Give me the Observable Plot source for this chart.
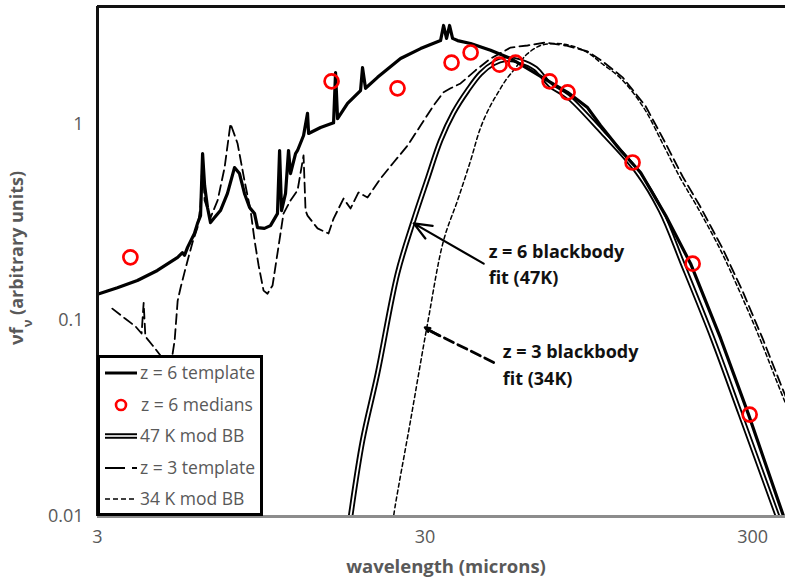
<!DOCTYPE html>
<html><head><meta charset="utf-8">
<script src="https://cdn.jsdelivr.net/npm/d3@7"></script>
<script src="https://cdn.jsdelivr.net/npm/@observablehq/plot@0.6"></script>
<style>
body{margin:0;background:#fff;}
#chart{width:785px;height:582px;}
</style></head><body><div id="chart"></div>
<script>
// ---- data (wavelength in microns, nu f_nu in arbitrary units) ----
const xTicks = [3, 30, 300];
const yTicks = [0.01, 0.1, 1];

const z6TemplateWl = [3.00,3.45,3.97,4.57,5.27,5.45,5.53,5.65,5.93,6.06,6.19,6.28,6.37,6.50,6.64,6.83,7.12,7.48,7.86,8.14,8.43,8.74,9.05,9.24,9.70,10.12,10.63,10.79,10.94,11.25,11.49,11.65,12.07,12.24,12.77,13.13,13.23,14.39,15.77,15.99,16.22,17.40,19.06,19.33,19.74,21.48,25.25,29.07,33.45,34.17,34.89,35.64,36.40,37.70,41.32,47.54,54.73,57.48,63.0,72.5,81.7,94.0,103.0,118.6,136.5,162.8,194.0,239.6,291.6,373.1,391.8];
const z6TemplateFlux = [0.136,0.147,0.160,0.180,0.210,0.222,0.215,0.236,0.278,0.313,0.343,0.711,0.488,0.377,0.316,0.335,0.364,0.445,0.603,0.562,0.445,0.377,0.351,0.298,0.295,0.305,0.351,0.737,0.364,0.445,0.737,0.562,0.711,0.737,0.879,1.14,0.900,0.965,1.02,1.84,1.07,1.28,1.49,1.95,1.53,1.74,2.17,2.44,2.68,3.20,2.75,3.20,2.75,2.68,2.59,2.39,2.17,2.07,1.89,1.64,1.46,1.22,0.988,0.737,0.569,0.343,0.195,0.081,0.0331,0.010,0.008];

const medianWl = [3.78,15.55,24.72,36.14,41.32,50.65,56.68,72.0,81.7,129.0,196.8,293.8];
const medianFlux = [0.210,1.66,1.53,2.07,2.33,2.02,2.07,1.66,1.46,0.640,0.195,0.0331];

const bb47Wl = [17.45,17.77,19.33,21.48,24.72,27.67,30.53,33.45,36.66,40.45,44.33,48.56,52.84,58.71,65.25,72.5,81.7,103.0,133.7,157.1,183.4,226.5,275.7,357.6,376];
const bb47Flux = [0.008,0.010,0.0244,0.0537,0.174,0.324,0.530,0.829,1.15,1.49,1.82,2.05,2.15,2.10,1.93,1.58,1.39,0.932,0.569,0.364,0.195,0.081,0.0331,0.010,0.008];

const z3TemplateWl = [3.33,3.65,3.92,4.09,4.15,4.20,4.42,4.67,4.87,5.05,5.16,5.27,5.38,5.53,5.65,5.85,6.06,6.19,6.28,6.37,6.64,6.98,7.33,7.64,8.03,8.43,8.80,9.05,9.31,9.64,9.91,10.27,10.63,11.09,11.65,12.24,12.77,12.95,13.13,14.09,15.22,15.77,16.91,17.77,18.79,20.02,21.94,24.04,26.53,29.07,31.85,34.17,35.89,38.50,42.79,47.54,54.73,61.67,69.98,80.55,94.0,104.5,120.3,141.4,162.8,183.4,206.7,242.9,279.6,321.8,362.6,411.7];
const z3TemplateFlux = [0.115,0.102,0.0932,0.0858,0.123,0.0829,0.0746,0.0663,0.0543,0.0625,0.0791,0.126,0.147,0.176,0.202,0.250,0.298,0.386,0.679,0.410,0.335,0.410,0.603,1.01,0.800,0.518,0.364,0.256,0.191,0.142,0.137,0.151,0.220,0.351,0.410,0.461,0.695,0.364,0.343,0.295,0.278,0.331,0.419,0.373,0.450,0.424,0.530,0.640,0.781,0.988,1.25,1.46,1.53,1.62,1.89,2.17,2.47,2.53,2.62,2.53,2.36,2.10,1.74,1.24,0.800,0.543,0.386,0.233,0.141,0.081,0.0489,0.0288];

const bb34Wl = [23.70,24.04,27.09,30.53,34.17,37.70,41.32,44.33,47.54,49.94,52.84,55.89,58.71,61.67,67.59,75.1,83.4,94.0,103.0,118.6,139.4,160.5,180.8,203.8,239.6,275.7,317.3,357.6,405.9];
const bb34Flux = [0.008,0.010,0.0309,0.0965,0.256,0.410,0.655,0.965,1.25,1.44,1.68,1.89,2.10,2.30,2.53,2.59,2.53,2.33,2.07,1.72,1.22,0.781,0.530,0.377,0.228,0.137,0.0791,0.0477,0.0281];

const legendLabels = ["z = 6 template","z = 6 medians","47 K mod BB","z = 3 template","34 K mod BB"];

// ---- build tables ----
const toRows = (w, f) => w.map((x, i) => ({x, y: f[i]}));
const z6 = toRows(z6TemplateWl, z6TemplateFlux);
const med = toRows(medianWl, medianFlux);
const bb47 = toRows(bb47Wl, bb47Flux);
const z3 = toRows(z3TemplateWl, z3TemplateFlux);
const bb34 = toRows(bb34Wl, bb34Flux);

const arrow6 = [{x1: 45.3, y1: 0.195, x2: 27.7, y2: 0.313}];
const arrow3Shaft = [{x1: 48.6, y1: 0.0611, x2: 31.3, y2: 0.0880}];
const arrow3Head = [{x1: 33.0, y1: 0.0840, x2: 30.0, y2: 0.0921}];

const plot = Plot.plot({
  width: 785, height: 582,
  marginLeft: 97, marginRight: 0, marginTop: 6, marginBottom: 66,
  style: {fontFamily: "'Open Sans', sans-serif", background: "#fff", color: "#595959", overflow: "visible"},
  x: {type: "log", domain: [3, 378]},
  y: {type: "log", domain: [0.01, 4]},
  marks: [
    Plot.axisX({ticks: xTicks, tickFormat: d => String(d), tickSize: 0, tickPadding: 14, fontSize: 18, label: null}),
    Plot.axisY({ticks: yTicks, tickFormat: d => String(d), tickSize: 0, tickPadding: 14, fontSize: 18, label: null}),
    Plot.line(bb34, {x: "x", y: "y", stroke: "black", strokeWidth: 1.5, strokeDasharray: "4,3", curve: "catmull-rom", clip: true}),
    Plot.line(z3, {x: "x", y: "y", stroke: "black", strokeWidth: 1.8, strokeDasharray: "10,5", clip: true}),
    Plot.line(bb47, {x: "x", y: "y", stroke: "black", strokeWidth: 5.5, curve: "catmull-rom", clip: true}),
    Plot.line(bb47, {x: "x", y: "y", stroke: "white", strokeWidth: 1.8, curve: "catmull-rom", clip: true}),
    Plot.line(z6, {x: "x", y: "y", stroke: "black", strokeWidth: 3.2, strokeLinejoin: "round", clip: true}),
    Plot.dot(med, {x: "x", y: "y", r: 7, stroke: "#ff0000", strokeWidth: 2.7, fill: "none"}),
    Plot.arrow(arrow6, {x1: "x1", y1: "y1", x2: "x2", y2: "y2", stroke: "black", strokeWidth: 2.2, headLength: 13, headAngle: 45}),
    Plot.arrow(arrow3Shaft, {x1: "x1", y1: "y1", x2: "x2", y2: "y2", stroke: "black", strokeWidth: 2.8, strokeDasharray: "10,5", headLength: 0}),
    Plot.arrow(arrow3Head, {x1: "x1", y1: "y1", x2: "x2", y2: "y2", stroke: "black", strokeWidth: 2.6, headLength: 13, headAngle: 45}),
    Plot.text([{x: 46.9, y: 0.222, t: "z = 6 blackbody"}, {x: 46.9, y: 0.164, t: "fit (47K)"}], {x: "x", y: "y", text: "t", textAnchor: "start", fill: "#111", fontSize: 18, fontWeight: "bold"}),
    Plot.text([{x: 51.8, y: 0.0687, t: "z = 3 blackbody"}, {x: 51.8, y: 0.050, t: "fit (34K)"}], {x: "x", y: "y", text: "t", textAnchor: "start", fill: "#111", fontSize: 18, fontWeight: "bold"}),
    Plot.ruleY([0.01], {stroke: "#8c8c8c", strokeWidth: 3}),
    Plot.ruleX([3], {stroke: "#111", strokeWidth: 3}),
    Plot.ruleY([4], {stroke: "#111", strokeWidth: 3})
  ]
});

document.getElementById("chart").appendChild(plot);

// ---- legend and axis titles ----
const svg = d3.select(plot);
const lg = svg.append("g").attr("text-anchor", "start");
lg.append("rect").attr("x", 98.5).attr("y", 356.5).attr("width", 163).attr("height", 158)
  .attr("fill", "white").attr("stroke", "black").attr("stroke-width", 3);
const rowsY = [373, 405, 436, 468, 499];
const x0 = 105, x1 = 137;
lg.append("line").attr("x1", x0).attr("x2", x1).attr("y1", rowsY[0]).attr("y2", rowsY[0]).attr("stroke", "black").attr("stroke-width", 3);
lg.append("circle").attr("cx", 121).attr("cy", rowsY[1]).attr("r", 5).attr("fill", "none").attr("stroke", "#ff0000").attr("stroke-width", 2.6);
lg.append("line").attr("x1", x0).attr("x2", x1).attr("y1", rowsY[2]).attr("y2", rowsY[2]).attr("stroke", "black").attr("stroke-width", 5.5);
lg.append("line").attr("x1", x0).attr("x2", x1).attr("y1", rowsY[2]).attr("y2", rowsY[2]).attr("stroke", "white").attr("stroke-width", 1.6);
lg.append("line").attr("x1", x0).attr("x2", x1).attr("y1", rowsY[3]).attr("y2", rowsY[3]).attr("stroke", "black").attr("stroke-width", 2).attr("stroke-dasharray", "20,7");
lg.append("line").attr("x1", x0).attr("x2", x1).attr("y1", rowsY[4]).attr("y2", rowsY[4]).attr("stroke", "black").attr("stroke-width", 1.6).attr("stroke-dasharray", "5,3");
legendLabels.forEach((t, i) => {
  lg.append("text").attr("x", i === 1 ? 141 : 140).attr("y", rowsY[i]).attr("dy", "0.35em")
    .attr("text-anchor", "start")
    .attr("fill", "#595959").attr("font-size", 17.5).attr("font-family", "'Open Sans', sans-serif").text(t);
});

svg.append("text").attr("x", 446).attr("y", 567).attr("dy", "0.35em").attr("text-anchor", "middle")
  .attr("fill", "#595959").attr("font-size", 18.5).attr("font-weight", "bold").attr("font-family", "'Open Sans', sans-serif")
  .text("wavelength (microns)");

const yt = svg.append("text").attr("transform", "translate(17,258) rotate(-90)").attr("dy", "0.35em").attr("text-anchor", "middle")
  .attr("fill", "#595959").attr("font-size", 18).attr("font-weight", "bold").attr("font-family", "'Open Sans', sans-serif");
yt.append("tspan").text("νf");
yt.append("tspan").attr("baseline-shift", "sub").attr("font-size", 13).text("ν");
yt.append("tspan").text(" (arbitrary units)");
</script>
</body></html>
